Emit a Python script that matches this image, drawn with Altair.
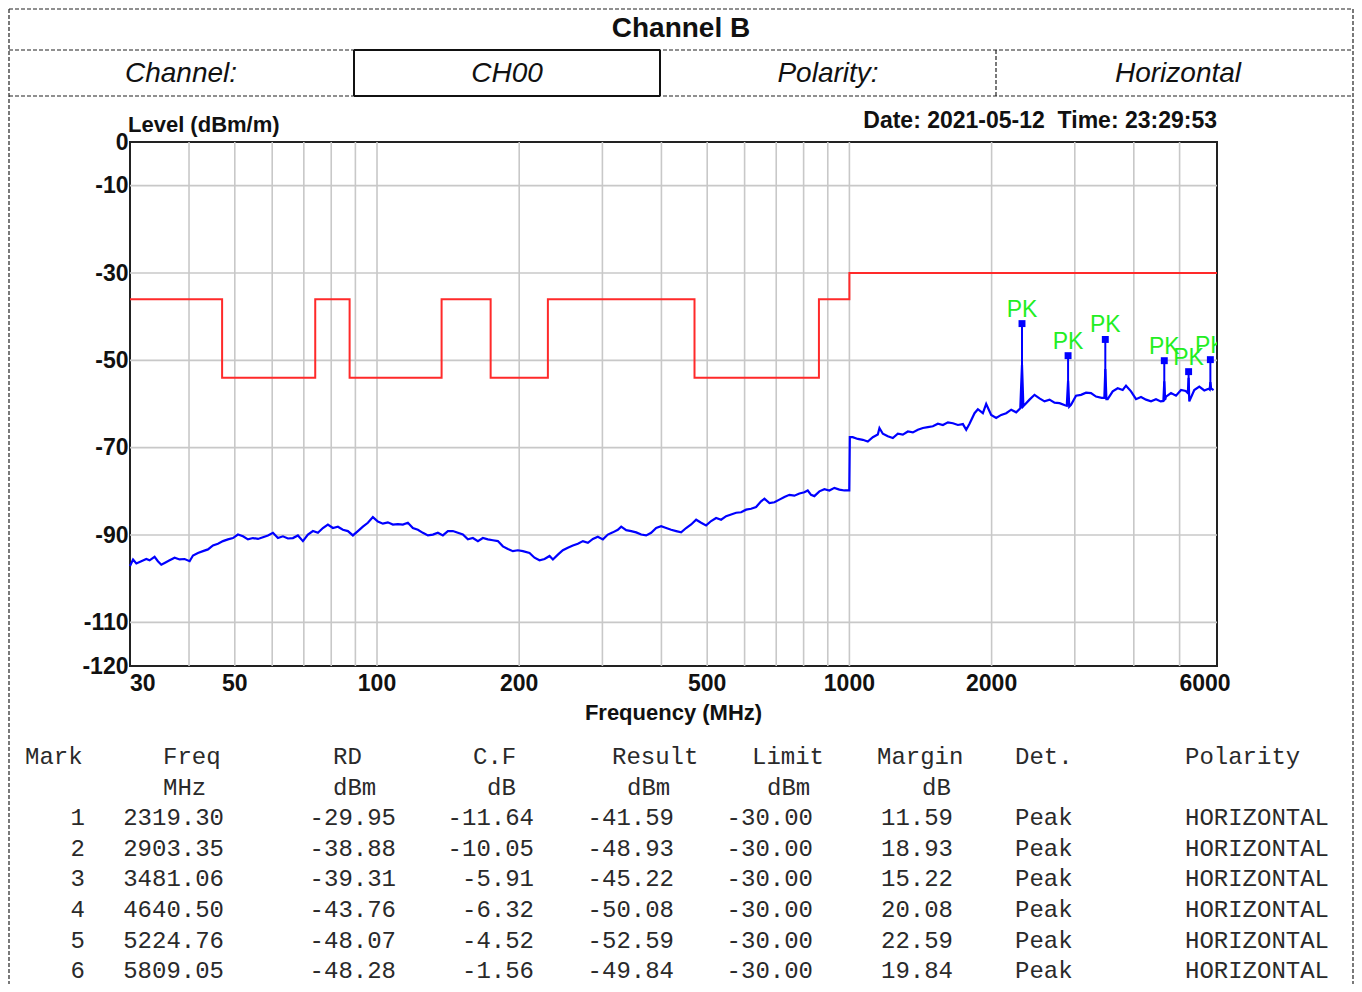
import altair as alt
import pandas as pd

# ---------------- data ----------------
TRACE_FREQ = [
    30.0, 30.45, 30.94, 31.70, 32.48, 33.01, 33.82, 34.37, 34.94, 35.51, 36.39, 37.29, 38.21, 39.15, 40.12,
    40.78, 41.78, 42.81, 43.87, 44.95, 46.06, 47.20, 48.36, 49.55, 50.77, 52.03, 53.31, 54.63, 55.97, 57.35,
    58.77, 60.22, 61.70, 63.22, 64.78, 66.38, 68.01, 69.69, 71.41, 73.17, 74.97, 76.82, 78.71, 80.65, 82.64,
    84.68, 86.77, 88.91, 91.10, 93.35, 95.65, 98.01, 100.43, 102.90, 105.44, 108.04, 110.71, 113.44, 116.24,
    119.10, 122.04, 125.06, 128.14, 131.30, 134.54, 137.86, 141.26, 144.75, 148.32, 151.98, 155.73, 159.57,
    163.51, 167.54, 171.68, 175.91, 180.25, 184.70, 189.26, 193.93, 198.71, 203.62, 210.3, 215.5, 220.8,
    226.3, 231.9, 235.7, 241.5, 247.4, 253.5, 259.8, 266.2, 272.8, 279.5, 286.4, 293.4, 300.7, 308.1, 315.7,
    323.5, 328.8, 336.9, 345.2, 353.7, 362.4, 371.4, 380.5, 389.9, 399.5, 409.4, 419.4, 429.8, 440.4, 451.2,
    462.4, 473.8, 485.4, 497.4, 509.7, 522.2, 535.1, 548.3, 561.8, 575.7, 589.9, 604.4, 619.3, 634.6, 650.2,
    660.9, 677.2, 693.9, 710.9, 728.5, 746.4, 764.8, 783.7, 803.0, 816.2, 829.5, 843.1, 863.9, 885.2, 907.0,
    929.4, 952.3, 975.8, 999.5, 1002.0, 1016.0, 1041.7, 1067.4, 1093.8, 1120.8, 1148.5, 1157.8, 1176.9,
    1205.9, 1235.7, 1266.3, 1297.6, 1329.6, 1362.5, 1396.1, 1430.6, 1466.0, 1502.1, 1539.3, 1577.3, 1616.3,
    1656.2, 1697.1, 1739.0, 1767.1, 1795.9, 1840.3, 1870.4, 1916.6, 1947.8, 1995.9, 2045.2, 2095.6, 2147.4,
    2200.4, 2254.8, 2300.0, 2319.3, 2335.0, 2347.8, 2405.8, 2465.2, 2526.1, 2588.5, 2652.4, 2717.9, 2785.0,
    2860.0, 2885.0, 2903.4, 2920.0, 2945.5, 3018.0, 3092.0, 3169.0, 3247.0, 3327.0, 3420.0, 3465.0, 3481.1,
    3500.0, 3522.0, 3609.0, 3698.0, 3789.0, 3851.0, 3946.0, 4043.0, 4143.0, 4245.0, 4350.0, 4457.0, 4560.0,
    4620.0, 4640.5, 4660.0, 4680.0, 4795.0, 4913.0, 5035.0, 5150.0, 5205.0, 5224.8, 5242.0, 5371.0, 5504.0,
    5640.0, 5760.0, 5790.0, 5809.1, 5830.0, 5900.0]
TRACE_LEVEL = [
    -97.1, -95.6, -96.5, -96.0, -95.5, -95.8, -95.0, -96.0, -96.8, -96.4, -95.8, -95.2, -95.6, -95.5, -96.0,
    -94.7, -94.1, -93.7, -93.3, -92.4, -92.0, -91.4, -91.0, -90.7, -89.9, -90.3, -91.0, -90.7, -90.9, -90.5,
    -90.1, -89.5, -90.7, -90.3, -90.8, -90.7, -90.1, -91.4, -89.9, -89.1, -89.5, -88.4, -87.6, -88.4, -88.1,
    -88.8, -89.1, -90.1, -89.1, -88.1, -87.2, -85.9, -86.9, -87.4, -87.1, -87.6, -87.5, -87.6, -87.2,
    -88.4, -88.8, -89.5, -90.1, -89.9, -89.5, -90.1, -89.1, -89.1, -89.5, -89.9, -91.0, -90.7,
    -91.4, -90.7, -91.0, -91.2, -91.4, -92.6, -93.2, -93.7, -93.5, -93.7, -94.1, -95.2, -95.8,
    -95.5, -94.8, -95.6, -94.5, -93.5, -92.9, -92.4, -92.0, -91.4, -91.8, -90.9, -90.4, -91.0, -89.9, -89.4,
    -88.8, -88.1, -88.9, -89.1, -89.4, -89.9, -90.1, -89.5, -88.4, -88.0, -88.4, -88.8, -89.1, -89.4, -88.4,
    -87.6, -86.5, -87.2, -87.8, -86.8, -86.1, -86.5, -85.7, -85.3, -84.9, -84.8, -84.2, -84.0, -83.6, -82.3,
    -81.7, -82.7, -82.5, -81.9, -81.3, -80.8, -81.0, -80.5, -80.2, -79.8, -80.8, -81.1, -80.0, -79.5, -79.8,
    -79.2, -79.6, -79.8, -79.8, -67.6, -67.6, -68.0, -68.2, -68.6, -67.6, -67.0, -65.5, -66.8,
    -67.4, -67.8, -66.8, -67.0, -66.3, -66.5, -65.9, -65.5, -65.3, -65.1, -64.5, -64.8, -64.2,
    -64.4, -64.8, -64.6, -65.9, -64.5, -62.1, -61.2, -62.1, -60.0, -62.5, -63.2, -62.5, -62.1,
    -61.3, -61.9, -61.0, -51.0, -60.5, -60.2, -59.0, -57.9, -58.7, -59.4, -59.0, -59.7, -59.8,
    -60.3, -60.4, -54.7, -60.6, -60.2, -58.1, -57.9, -57.4, -57.5, -58.3, -58.6, -58.6, -52.0,
    -58.9, -58.9, -57.1, -56.4, -56.8, -55.8, -57.1, -58.9, -58.4, -59.0, -59.4, -58.9, -59.4,
    -59.3, -54.8, -59.0, -58.3, -57.5, -58.1, -56.8, -57.0, -57.5, -54.0, -59.4, -56.8, -56.0,
    -56.9, -56.5, -56.7, -55.0, -56.4, -56.8]

LIMIT_FREQ = [30, 47, 74, 87.5, 137, 174, 230, 470, 862, 1000, 6000]
LIMIT_LEVEL = [-36, -54, -36, -54, -36, -54, -36, -54, -36, -30, -30]

MARK_NO = [1, 2, 3, 4, 5, 6]
MARK_FREQ = [2319.30, 2903.35, 3481.06, 4640.50, 5224.76, 5809.05]
MARK_RD = [-29.95, -38.88, -39.31, -43.76, -48.07, -48.28]
MARK_CF = [-11.64, -10.05, -5.91, -6.32, -4.52, -1.56]
MARK_RESULT = [-41.59, -48.93, -45.22, -50.08, -52.59, -49.84]
MARK_LIMIT = [-30.00, -30.00, -30.00, -30.00, -30.00, -30.00]
MARK_MARGIN = [11.59, 18.93, 15.22, 20.08, 22.59, 19.84]
MARK_DET = ["Peak", "Peak", "Peak", "Peak", "Peak", "Peak"]
MARK_POL = ["HORIZONTAL", "HORIZONTAL", "HORIZONTAL", "HORIZONTAL", "HORIZONTAL", "HORIZONTAL"]
PEAK_BASE = [-61.0, -60.4, -58.6, -59.3, -57.5, -56.7]

X_LABELS = [30, 50, 100, 200, 500, 1000, 2000, 6000]
X_GRID = [40, 50, 60, 70, 80, 90, 100, 200, 300, 400, 500, 600, 700, 800, 900, 1000, 2000, 3000, 4000, 5000]
Y_LABELS = [0, -10, -30, -50, -70, -90, -110, -120]
Y_GRID = [-10, -30, -50, -70, -90, -110]

HEADER_TITLE = "Channel B"
HEADER_CELLS = ["Channel:", "CH00", "Polarity:", "Horizontal"]
Y_TITLE = "Level (dBm/m)"
X_TITLE = "Frequency (MHz)"
DATE_TEXT = "Date: 2021-05-12\u00a0\u00a0Time: 23:29:53"
TABLE_HEAD1 = ["Mark", "Freq", "RD", "C.F", "Result", "Limit", "Margin", "Det.", "Polarity"]
TABLE_HEAD2 = ["", "MHz", "dBm", "dB", "dBm", "dBm", "dB", "", ""]

# ---------------- layout (pixels, relative to the plot origin) ----------------
W, H = 1087, 524
SANS = "Liberation Sans"
MONO = "Liberation Mono"
HEAD1_LEFT = [-105, 33, 203, 343, 482, 622, 747, 885, 1055]
HEAD2_LEFT = [None, 33, 203, 357, 497, 637, 792, None, None]
VAL_RIGHT = [-45, 94, 266, 404, 544, 683, 823]
VAL_LEFT = [885, 1055]
CELL_CENTER = [51, 377, 698, 1048]
TICK_FONT = 23

XS = alt.Scale(type="log", domain=[30, 6000], nice=False)
YS = alt.Scale(domain=[-120, 0], nice=False, zero=False)

trace_df = pd.DataFrame({"f": TRACE_FREQ, "lvl": TRACE_LEVEL})
limit_df = pd.DataFrame({"f": LIMIT_FREQ, "lvl": LIMIT_LEVEL})
peak_df = pd.DataFrame({"f": MARK_FREQ, "res": MARK_RESULT, "base": PEAK_BASE, "t": ["PK"] * len(MARK_FREQ)})

grid_x = alt.Chart(pd.DataFrame({"f": X_GRID})).mark_rule(color="#c8c8c8", strokeWidth=1.6).encode(
    x=alt.X("f:Q", scale=XS, axis=None))
grid_y = alt.Chart(pd.DataFrame({"v": Y_GRID})).mark_rule(color="#c8c8c8", strokeWidth=1.6).encode(
    y=alt.Y("v:Q", scale=YS, axis=alt.Axis(values=Y_LABELS, grid=False, ticks=False, domain=False, title=None,
                                          labelExpr="'' + datum.value",
                                          labelFont=SANS, labelFontWeight="bold", labelFontSize=TICK_FONT,
                                          labelColor="#111111", labelPadding=2, labelOverlap=False)))

limit = alt.Chart(limit_df).mark_line(color="#ff2a2a", strokeWidth=2, interpolate="step-after").encode(
    x=alt.X("f:Q", scale=XS, axis=None), y=alt.Y("lvl:Q", scale=YS, axis=None))
trace = alt.Chart(trace_df).mark_line(color="#0000ff", strokeWidth=2.2).encode(
    x=alt.X("f:Q", scale=XS, axis=None), y=alt.Y("lvl:Q", scale=YS, axis=None))
peak_rule = alt.Chart(peak_df).mark_rule(color="#0000ff", strokeWidth=2).encode(
    x=alt.X("f:Q", scale=XS, axis=None), y=alt.Y("res:Q", scale=YS, axis=None), y2="base:Q")
peak_dot = alt.Chart(peak_df).mark_square(color="#0000ff", size=48, opacity=1).encode(
    x=alt.X("f:Q", scale=XS, axis=None), y=alt.Y("res:Q", scale=YS, axis=None))
peak_txt = alt.Chart(peak_df).mark_text(color="#22ee22", fontSize=23, font=SANS, baseline="alphabetic",
                                         dy=-7, clip=True).encode(
    x=alt.X("f:Q", scale=XS, axis=None), y=alt.Y("res:Q", scale=YS, axis=None), text="t:N")

xl_df = pd.DataFrame({"f": X_LABELS, "t": [str(v) for v in X_LABELS]})
xlab_style = dict(font=SANS, fontWeight="bold", fontSize=TICK_FONT, color="#111111", baseline="top")
xlab_first = alt.Chart(xl_df.iloc[:1]).mark_text(align="left", **xlab_style).encode(
    x=alt.X("f:Q", scale=XS, axis=None), y=alt.value(H + 7), text="t:N")
xlab_mid = alt.Chart(xl_df.iloc[1:-1]).mark_text(align="center", **xlab_style).encode(
    x=alt.X("f:Q", scale=XS, axis=None), y=alt.value(H + 7), text="t:N")
xlab_last = alt.Chart(xl_df.iloc[-1:]).mark_text(align="center", dx=-12, **xlab_style).encode(
    x=alt.X("f:Q", scale=XS, axis=None), y=alt.value(H + 7), text="t:N")


def label(text, x, y, align="center", size=22, weight="bold", style="normal", font=SANS, color="#111111"):
    return alt.Chart(pd.DataFrame({"t": [text]})).mark_text(
        align=align, baseline="middle", font=font, fontSize=size, fontWeight=weight, fontStyle=style,
        color=color).encode(x=alt.value(x), y=alt.value(y), text="t:N")


ytitle = label(Y_TITLE, -2, -17, align="left", size=22)
date = label(DATE_TEXT, W, -21, align="right", size=23)
xtitle = label(X_TITLE, W / 2, 571, size=22)

# header / frame lines
dashed_lines = pd.DataFrame({
    "x": [-121, -121, 1223, -121, -121, 866],
    "x2": [1223, -121, 1223, 1223, 1223, 866],
    "y": [-133, -133, -133, -92, -46, -92],
    "y2": [-133, 842, 842, -92, -46, -46],
})
solid_lines = pd.DataFrame({
    "x": [224, 224, 224, 530],
    "x2": [530, 530, 224, 530],
    "y": [-92, -46, -92, -92],
    "y2": [-92, -46, -46, -46],
})
dash_layer = alt.Chart(dashed_lines).mark_rule(color="#222222", strokeWidth=1.2, strokeDash=[4, 2]).encode(
    x=alt.X("x:Q", scale=None), x2="x2:Q", y=alt.Y("y:Q", scale=None), y2="y2:Q")
solid_layer = alt.Chart(solid_lines).mark_rule(color="#111111", strokeWidth=2).encode(
    x=alt.X("x:Q", scale=None), x2="x2:Q", y=alt.Y("y:Q", scale=None), y2="y2:Q")

title_txt = label(HEADER_TITLE, 551, -113, size=28)
cell_txt = [label(t, cx, -68, size=28, weight="normal", style="italic") for t, cx in zip(HEADER_CELLS, CELL_CENTER)]

# table
rows = []
for h, l in zip(TABLE_HEAD1, HEAD1_LEFT):
    rows.append({"row": 0, "t": h, "px": l, "al": "left"})
for h, l in zip(TABLE_HEAD2, HEAD2_LEFT):
    if h:
        rows.append({"row": 1, "t": h, "px": l, "al": "left"})
for k in range(len(MARK_NO)):
    vals = [str(MARK_NO[k]), f"{MARK_FREQ[k]:.2f}", f"{MARK_RD[k]:.2f}", f"{MARK_CF[k]:.2f}",
            f"{MARK_RESULT[k]:.2f}", f"{MARK_LIMIT[k]:.2f}", f"{MARK_MARGIN[k]:.2f}"]
    for v, r in zip(vals, VAL_RIGHT):
        rows.append({"row": k + 2, "t": v, "px": r, "al": "right"})
    for v, l in zip([MARK_DET[k], MARK_POL[k]], VAL_LEFT):
        rows.append({"row": k + 2, "t": v, "px": l, "al": "left"})
table_df = pd.DataFrame(rows)
ROW_SCALE = alt.Scale(domain=[0, 7], range=[615, 615 + 7 * 30.6])
table_layers = []
for al in ["left", "right"]:
    table_layers.append(
        alt.Chart(table_df[table_df["al"] == al]).mark_text(
            align=al, baseline="middle", font=MONO, fontSize=24, color="#2a2a2a").encode(
            x=alt.X("px:Q", scale=None), y=alt.Y("row:Q", scale=ROW_SCALE, axis=None), text="t:N"))

chart = alt.layer(
    grid_x, grid_y, limit, trace, peak_rule, peak_dot, peak_txt,
    xlab_first, xlab_mid, xlab_last, ytitle, date, xtitle,
    dash_layer, solid_layer, title_txt, *cell_txt, *table_layers,
).resolve_scale(x="independent", y="independent").properties(
    width=W, height=H,
    padding={"left": 122, "top": 134, "right": 137, "bottom": 318},
    autosize=alt.AutoSizeParams(type="none"),
    background="white",
).configure_view(stroke="#222222", strokeWidth=2)

chart.save("out.html", embed_options={"renderer": "svg", "actions": False})
